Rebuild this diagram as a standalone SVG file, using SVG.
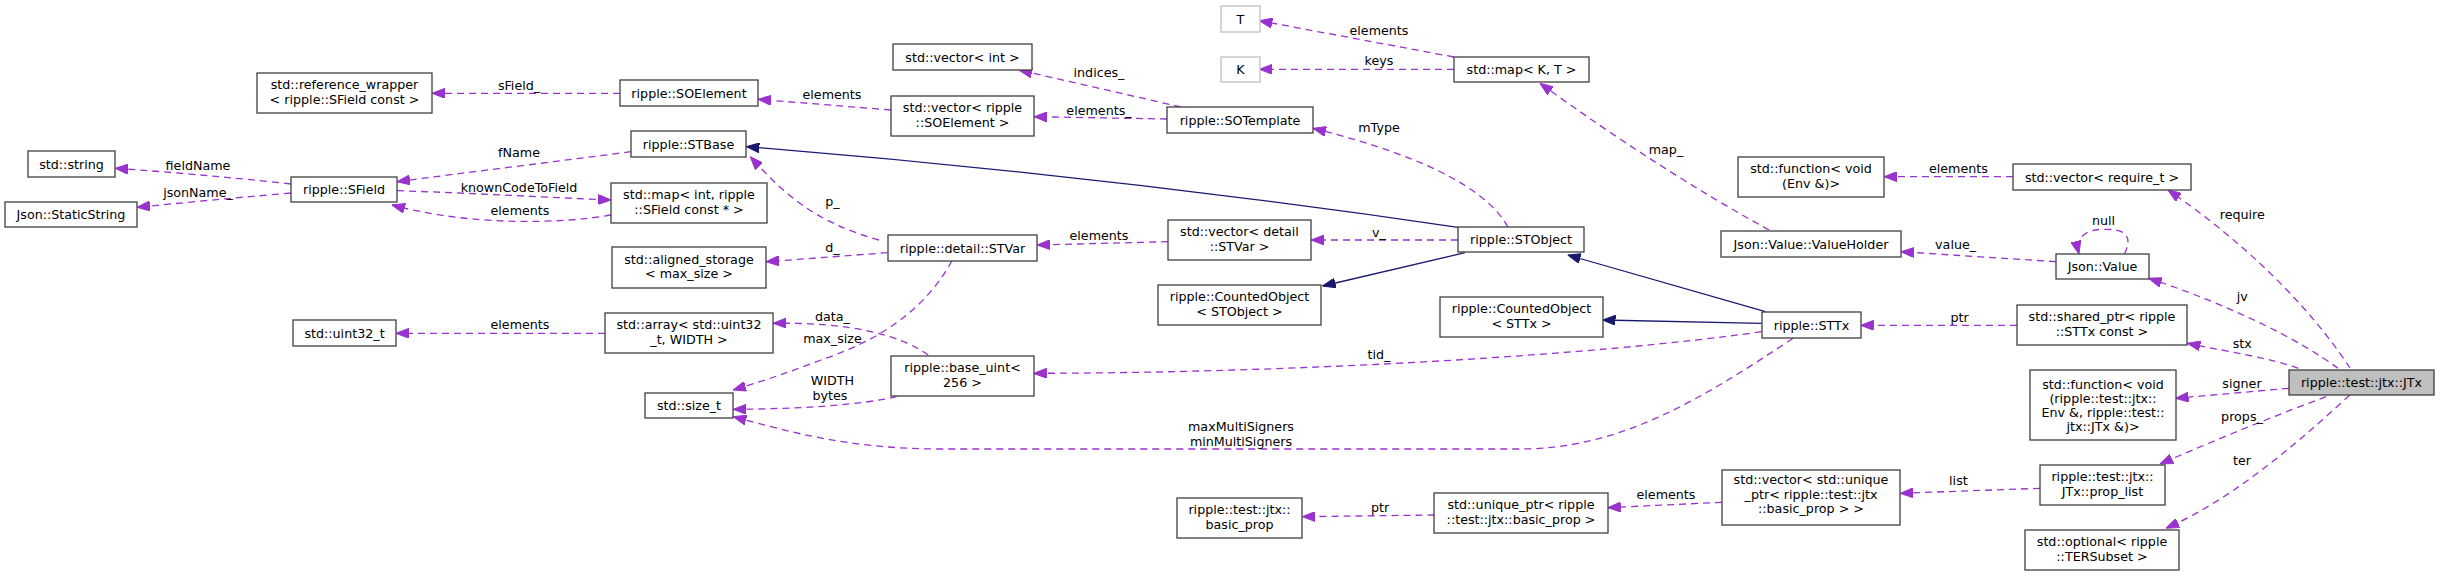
<svg xmlns="http://www.w3.org/2000/svg" width="2443" height="577" viewBox="0 0 2443 577">
<style>
.n rect{fill:#fff;stroke:#404040;stroke-width:1.3}
.g rect{fill:#fff;stroke:#bfbfbf;stroke-width:1.3}
.h rect{fill:#bfbfbf;stroke:#404040;stroke-width:1.3}
text{font-family:"DejaVu Sans","Liberation Sans",sans-serif;font-size:12.7px;text-anchor:middle;fill:#000}
.e{fill:none;stroke:#9a32cd;stroke-width:1.3;stroke-dasharray:7,5;marker-end:url(#ap)}
.i{fill:none;stroke:#191970;stroke-width:1.3;marker-end:url(#an)}
</style>
<defs>
<marker id="ap" viewBox="0 0 13 10" refX="13" refY="5" markerWidth="13" markerHeight="10" markerUnits="userSpaceOnUse" orient="auto"><path d="M0,0 L13,5 L0,10 z" fill="#9a32cd" stroke="#9a32cd" stroke-width="1"/></marker>
<marker id="an" viewBox="0 0 13 10" refX="13" refY="5" markerWidth="13" markerHeight="10" markerUnits="userSpaceOnUse" orient="auto"><path d="M0,0 L13,5 L0,10 z" fill="#191970" stroke="#191970" stroke-width="1"/></marker>
</defs>
<rect width="2443" height="577" fill="#fff"/>
<g id="edges">
<path class="e" d="M620,93.3 L432,93.3"/>
<path class="e" d="M291,184 Q 200,174 115,168.3"/>
<path class="e" d="M291,193 Q 210,200 137,207.3"/>
<path class="e" d="M631,151.7 C 560,161 470,172 397,181.7"/>
<path class="e" d="M397,190.7 C 470,193 540,197 611,200"/>
<path class="e" d="M611,215 C 560,224 470,226 392,205"/>
<path class="e" d="M891,110 L758,99.3"/>
<path class="e" d="M1181,107 L1019,70"/>
<path class="e" d="M1167,119 L1034,116.7"/>
<path class="e" d="M1454,57 L1259.3,20.7"/>
<path class="e" d="M1454,69.3 L1259.3,69.3"/>
<path class="e" d="M1769,230 Q 1660,170 1540,83.3"/>
<path class="e" d="M1508,227 C 1490,195 1440,160 1313,128.3"/>
<path class="i" d="M1458,227.3 Q 1100,175 746.3,146.7"/>
<path class="e" d="M1458,240 L1311,240"/>
<path class="i" d="M1465,252.7 L1322.6,286"/>
<path class="i" d="M1765.4,311.7 L1567.7,255"/>
<path class="i" d="M1761.5,323.3 L1602.5,320"/>
<path class="e" d="M1168,241.7 L1037.3,245"/>
<path class="e" d="M879,240 C 815,222 785,195 750.3,156.7"/>
<path class="e" d="M887.5,252.7 L766,261.7"/>
<path class="e" d="M952,260.7 C 925,310 880,340 821,360 C 790,372 760,382 733,390"/>
<path class="e" d="M928.2,355 C 900,335 850,322 773.2,323.3"/>
<path class="e" d="M896.6,396.7 C 860,405 800,409 733.3,409.3"/>
<path class="e" d="M1761.5,331.7 C 1600,355 1300,373 1033.8,373.3"/>
<path class="e" d="M1793,338.3 C 1700,400 1620,449 1520,449 L 940,449 C 850,449 790,432 733.3,416.7"/>
<path class="e" d="M2017,325.3 L1860.7,325.3"/>
<path class="e" d="M2056,261.7 L1901,251.7"/>
<path class="e" d="M2124.5,254 C 2135,232 2120,229 2103.5,229.3 C 2085,229.5 2075,238 2079,254"/>
<path class="e" d="M2350,368 C 2325,330 2270,260 2168,190"/>
<path class="e" d="M2338,368.3 C 2300,340 2230,305 2148.6,278.3"/>
<path class="e" d="M2298.4,368.3 C 2270,358 2230,352 2187.3,343.3"/>
<path class="e" d="M2289,388.3 L2175.5,398.3"/>
<path class="e" d="M2326,396.7 Q 2250,425 2160,464"/>
<path class="e" d="M2349.8,395 C 2290,450 2230,500 2166,528.3"/>
<path class="e" d="M2040,488.3 L1900.3,493.3"/>
<path class="e" d="M1722,502.3 L1607.7,507.7"/>
<path class="e" d="M1434.5,515 L1302.4,516.7"/>
<path class="e" d="M2013,176.7 L1884,176.7"/>
<path class="e" d="M605,333.3 L396,333.3"/>
</g>
<g id="labels">
<text x="519" y="89.5">sField_</text>
<text x="198" y="169.5">fieldName</text>
<text x="519" y="156.5">fName</text>
<text x="198" y="196.5">jsonName_</text>
<text x="519" y="191.5">knownCodeToField</text>
<text x="520" y="215.2">elements</text>
<text x="520" y="328.8">elements</text>
<text x="832" y="98.8">elements</text>
<text x="1099" y="76.8">indices_</text>
<text x="1099" y="114.5">elements_</text>
<text x="1379" y="35.2">elements</text>
<text x="1379" y="65.2">keys</text>
<text x="1379" y="132.2">mType</text>
<text x="1666" y="154.2">map_</text>
<text x="1958.4" y="172.8">elements</text>
<text x="832.5" y="206.2">p_</text>
<text x="832.5" y="251.8">d_</text>
<text x="1099" y="240.2">elements</text>
<text x="832.5" y="320.5">data_</text>
<text x="832.5" y="342.8">max_size</text>
<text x="832.5" y="385.2">WIDTH</text>
<text x="830" y="399.5">bytes</text>
<text x="1379" y="236.8">v_</text>
<text x="1379" y="358.8">tid_</text>
<text x="1241" y="431.2">maxMultiSigners</text>
<text x="1241" y="445.5">minMultiSigners</text>
<text x="2103.5" y="225.2">null</text>
<text x="1955.6" y="248.8">value_</text>
<text x="2242.3" y="219.2">require</text>
<text x="2242.3" y="300.5">jv</text>
<text x="1959.6" y="322.2">ptr</text>
<text x="2242.3" y="347.8">stx</text>
<text x="2242" y="388">signer</text>
<text x="2242" y="420.5">props_</text>
<text x="2242" y="464.8">ter</text>
<text x="1958.4" y="484.5">list</text>
<text x="1666" y="498.8">elements</text>
<text x="1380" y="511.5">ptr</text>
</g>
<g id="n1" class="n"><rect x="28" y="151" width="87" height="26"/><text x="71.5" y="168.5">std::string</text></g>
<g id="n2" class="n"><rect x="5" y="202" width="132" height="25"/><text x="71" y="219">Json::StaticString</text></g>
<g id="n3" class="n"><rect x="257" y="73" width="175" height="40"/><text x="344.5" y="89.4">std::reference_wrapper</text><text x="344.5" y="103.7">&lt; ripple::SField const &gt;</text></g>
<g id="n4" class="n"><rect x="291" y="177" width="106" height="25"/><text x="344" y="194">ripple::SField</text></g>
<g id="n5" class="n"><rect x="620" y="80" width="138" height="26"/><text x="689" y="97.5">ripple::SOElement</text></g>
<g id="n6" class="n"><rect x="631" y="131" width="115" height="26"/><text x="688.5" y="148.5">ripple::STBase</text></g>
<g id="n7" class="n"><rect x="611" y="183" width="156" height="40"/><text x="689" y="199.4">std::map&lt; int, ripple</text><text x="689" y="213.7">::SField const * &gt;</text></g>
<g id="n8" class="n"><rect x="612" y="247" width="154" height="41"/><text x="689" y="263.9">std::aligned_storage</text><text x="689" y="278.2">&lt; max_size &gt;</text></g>
<g id="n9" class="n"><rect x="293" y="320" width="103" height="26"/><text x="344.5" y="337.5">std::uint32_t</text></g>
<g id="n10" class="n"><rect x="605" y="313" width="168" height="40"/><text x="689" y="329.4">std::array&lt; std::uint32</text><text x="689" y="343.7">_t, WIDTH &gt;</text></g>
<g id="n11" class="n"><rect x="645" y="393" width="88" height="25"/><text x="689" y="410">std::size_t</text></g>
<g id="n12" class="n"><rect x="893" y="44" width="139" height="26"/><text x="962.5" y="61.5">std::vector&lt; int &gt;</text></g>
<g id="n13" class="n"><rect x="891" y="96" width="143" height="40"/><text x="962.5" y="112.4">std::vector&lt; ripple</text><text x="962.5" y="126.7">::SOElement &gt;</text></g>
<g id="n14" class="n"><rect x="888" y="235" width="149" height="26"/><text x="962.5" y="252.5">ripple::detail::STVar</text></g>
<g id="n15" class="n"><rect x="891" y="356" width="143" height="40"/><text x="962.5" y="372.4">ripple::base_uint&lt;</text><text x="962.5" y="386.7">256 &gt;</text></g>
<g id="n16" class="n"><rect x="1167" y="107" width="146" height="26"/><text x="1240" y="124.5">ripple::SOTemplate</text></g>
<g id="n17" class="n"><rect x="1168" y="220" width="143" height="40"/><text x="1239.5" y="236.4">std::vector&lt; detail</text><text x="1239.5" y="250.7">::STVar &gt;</text></g>
<g id="n18" class="n"><rect x="1158" y="285" width="163" height="40"/><text x="1239.5" y="301.4">ripple::CountedObject</text><text x="1239.5" y="315.7">&lt; STObject &gt;</text></g>
<g id="n19" class="n"><rect x="1177" y="498" width="125" height="40"/><text x="1239.5" y="514.4">ripple::test::jtx::</text><text x="1239.5" y="528.7">basic_prop</text></g>
<g id="n20" class="g"><rect x="1221" y="6" width="39" height="26"/><text x="1240.5" y="23.5">T</text></g>
<g id="n21" class="g"><rect x="1221" y="57" width="39" height="25"/><text x="1240.5" y="74">K</text></g>
<g id="n22" class="n"><rect x="1458" y="227" width="126" height="25"/><text x="1521" y="244">ripple::STObject</text></g>
<g id="n23" class="n"><rect x="1440" y="297" width="163" height="40"/><text x="1521.5" y="313.4">ripple::CountedObject</text><text x="1521.5" y="327.7">&lt; STTx &gt;</text></g>
<g id="n24" class="n"><rect x="1434" y="493" width="174" height="40"/><text x="1521" y="509.4">std::unique_ptr&lt; ripple</text><text x="1521" y="523.7">::test::jtx::basic_prop &gt;</text></g>
<g id="n25" class="n"><rect x="1454" y="57" width="135" height="25"/><text x="1521.5" y="74">std::map&lt; K, T &gt;</text></g>
<g id="n26" class="n"><rect x="1721" y="231" width="180" height="26"/><text x="1811" y="248.5">Json::Value::ValueHolder</text></g>
<g id="n27" class="n"><rect x="1762" y="312" width="99" height="26"/><text x="1811.5" y="329.5">ripple::STTx</text></g>
<g id="n28" class="n"><rect x="1722" y="470" width="178" height="55"/><text x="1811" y="484.2">std::vector&lt; std::unique</text><text x="1811" y="498.5">_ptr&lt; ripple::test::jtx</text><text x="1811" y="512.8">::basic_prop &gt; &gt;</text></g>
<g id="n29" class="n"><rect x="1738" y="157" width="146" height="40"/><text x="1811" y="173.4">std::function&lt; void</text><text x="1811" y="187.7">(Env &amp;)&gt;</text></g>
<g id="n30" class="n"><rect x="2013" y="164" width="178" height="26"/><text x="2102" y="181.5">std::vector&lt; require_t &gt;</text></g>
<g id="n31" class="n"><rect x="2056" y="254" width="93" height="25"/><text x="2102.5" y="271">Json::Value</text></g>
<g id="n32" class="n"><rect x="2017" y="305" width="170" height="40"/><text x="2102" y="321.4">std::shared_ptr&lt; ripple</text><text x="2102" y="335.7">::STTx const &gt;</text></g>
<g id="n33" class="n"><rect x="2030" y="370" width="146" height="70"/><text x="2103" y="388.5">std::function&lt; void</text><text x="2103" y="402.8">(ripple::test::jtx::</text><text x="2103" y="417.1">Env &amp;, ripple::test::</text><text x="2103" y="431.4">jtx::JTx &amp;)&gt;</text></g>
<g id="n34" class="n"><rect x="2040" y="465" width="125" height="40"/><text x="2102.5" y="481.4">ripple::test::jtx::</text><text x="2102.5" y="495.7">JTx::prop_list</text></g>
<g id="n35" class="n"><rect x="2025" y="530" width="154" height="40"/><text x="2102" y="546.4">std::optional&lt; ripple</text><text x="2102" y="560.7">::TERSubset &gt;</text></g>
<g id="n36" class="h"><rect x="2289" y="370" width="145" height="25"/><text x="2361.5" y="387">ripple::test::jtx::JTx</text></g>
</svg>
